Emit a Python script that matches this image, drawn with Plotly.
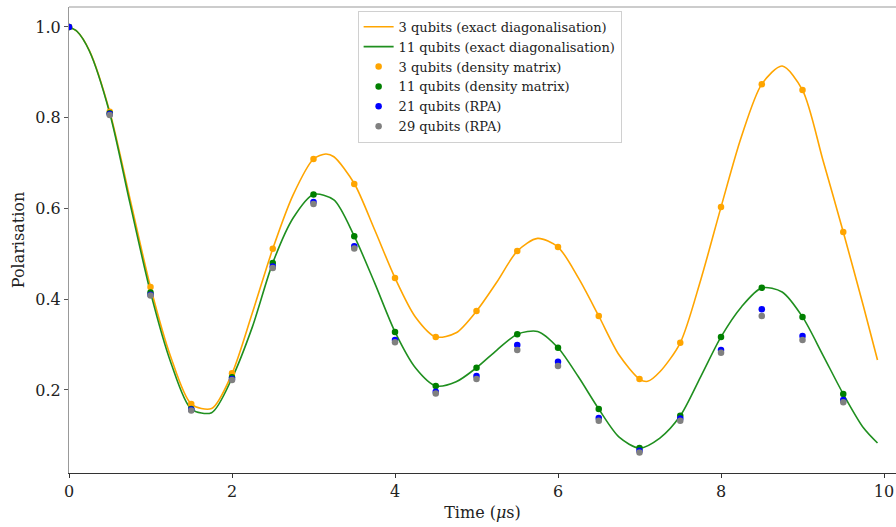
import plotly.graph_objects as go

# Exact diagonalisation curves
t_exact_3 = [0, 0.1, 0.25, 0.5, 0.75, 1.0, 1.25, 1.5, 1.75, 2.0,
             2.25, 2.5, 2.75, 3.0, 3.15, 3.25, 3.5, 3.75, 4.0, 4.25,
             4.5, 4.75, 5.0, 5.25, 5.5, 5.75, 6.0, 6.25, 6.5,
             6.75, 7.0, 7.1, 7.25, 7.5, 7.75, 8.0, 8.25, 8.5, 8.75,
             9.0, 9.25, 9.5, 9.75, 9.92]
p_exact_3 = [1.0, 0.99, 0.948, 0.813, 0.62, 0.427, 0.272, 0.169, 0.159, 0.236,
             0.37, 0.511, 0.630, 0.709, 0.720, 0.714, 0.655, 0.553, 0.447, 0.361,
             0.317, 0.326, 0.374, 0.438, 0.506, 0.534, 0.515, 0.447, 0.363,
             0.277, 0.224, 0.219, 0.240, 0.304, 0.442, 0.603, 0.758, 0.874, 0.914,
             0.861, 0.707, 0.548, 0.383, 0.266]

t_exact_11 = [0, 0.1, 0.25, 0.5, 0.75, 1.0, 1.25, 1.5, 1.75, 2.0,
              2.25, 2.5, 2.75, 3.0, 3.25, 3.5, 3.75, 4.0, 4.25,
              4.5, 4.75, 5.0, 5.25, 5.5, 5.75, 6.0, 6.25,
              6.5, 6.75, 7.0, 7.25, 7.5, 7.75, 8.0, 8.25, 8.5,
              8.75, 9.0, 9.25, 9.5, 9.75, 9.92]
p_exact_11 = [1.0, 0.99, 0.947, 0.81, 0.61, 0.415, 0.26, 0.158, 0.150, 0.226,
              0.339, 0.480, 0.579, 0.631, 0.619, 0.539, 0.436, 0.328, 0.249,
              0.209, 0.218, 0.249, 0.288, 0.323, 0.329, 0.293, 0.229,
              0.158, 0.096, 0.072, 0.094, 0.143, 0.229, 0.317, 0.383, 0.425,
              0.416, 0.361, 0.277, 0.191, 0.116, 0.083]

# Sampled points
t_pts = [0, 0.5, 1.0, 1.5, 2.0, 2.5, 3.0, 3.5, 4.0, 4.5,
         5.0, 5.5, 6.0, 6.5, 7.0, 7.5, 8.0, 8.5, 9.0, 9.5]
dm_3 = [1.0, 0.813, 0.427, 0.169, 0.237, 0.511, 0.709, 0.654, 0.447, 0.317,
        0.374, 0.506, 0.515, 0.363, 0.224, 0.304, 0.603, 0.874, 0.861, 0.548]
dm_11 = [1.0, 0.810, 0.415, 0.158, 0.228, 0.480, 0.631, 0.539, 0.328, 0.209,
         0.249, 0.323, 0.293, 0.158, 0.072, 0.143, 0.317, 0.425, 0.361, 0.191]
rpa_21 = [1.0, 0.808, 0.410, 0.157, 0.224, 0.472, 0.614, 0.517, 0.310, 0.196,
          0.231, 0.299, 0.262, 0.138, 0.066, 0.137, 0.288, 0.378, 0.319, 0.178]
t_rpa_29 = t_pts[1:]
rpa_29 = [0.806, 0.408, 0.155, 0.222, 0.469, 0.610, 0.512, 0.305, 0.192,
          0.224, 0.288, 0.253, 0.132, 0.062, 0.132, 0.282, 0.363, 0.310, 0.173]

x_ticks = [0, 2, 4, 6, 8, 10]
y_ticks = [0.2, 0.4, 0.6, 0.8, 1.0]

serif = "DejaVu Serif"
fig = go.Figure()
fig.add_trace(go.Scatter(x=t_exact_3, y=p_exact_3, mode="lines",
                         line=dict(color="orange", width=1.6, shape="spline", smoothing=0.8),
                         name="3 qubits (exact diagonalisation)"))
fig.add_trace(go.Scatter(x=t_exact_11, y=p_exact_11, mode="lines",
                         line=dict(color="#1f8f1f", width=1.6, shape="spline", smoothing=0.8),
                         name="11 qubits (exact diagonalisation)"))
fig.add_trace(go.Scatter(x=t_pts, y=dm_3, mode="markers",
                         marker=dict(color="orange", size=6.5),
                         name="3 qubits (density matrix)"))
fig.add_trace(go.Scatter(x=t_pts, y=dm_11, mode="markers",
                         marker=dict(color="green", size=6.5),
                         name="11 qubits (density matrix)"))
fig.add_trace(go.Scatter(x=t_pts, y=rpa_21, mode="markers",
                         marker=dict(color="blue", size=6.5),
                         name="21 qubits (RPA)"))
fig.add_trace(go.Scatter(x=t_rpa_29, y=rpa_29, mode="markers",
                         marker=dict(color="grey", size=6.5),
                         name="29 qubits (RPA)"))

fig.update_layout(
    width=896, height=527,
    margin=dict(l=69, r=0, t=7, b=54),
    plot_bgcolor="white", paper_bgcolor="white",
    font=dict(family=serif, color="#222"),
    showlegend=True,
    legend=dict(x=0.349, y=0.992, xanchor="left", yanchor="top",
                bgcolor="white", bordercolor="#d0d0d0", borderwidth=1,
                font=dict(family=serif, size=13, color="#222"),
                itemwidth=30, tracegroupgap=0),
    xaxis=dict(range=[0, 10.147], tickvals=x_ticks, ticktext=[str(v) for v in x_ticks],
               showgrid=False, zeroline=False, showline=True, linecolor="#333", linewidth=1.2,
               ticks="outside", ticklen=4, tickcolor="#333",
               tickfont=dict(family=serif, size=16, color="#222"),
               title=dict(text="Time (<i>μ</i>s)", font=dict(family=serif, size=16, color="#222"),
                          standoff=6)),
    yaxis=dict(range=[0.017, 1.044], tickvals=y_ticks, ticktext=["0.2", "0.4", "0.6", "0.8", "1.0"],
               showgrid=False, zeroline=False, showline=True, linecolor="#999", linewidth=1.2,
               ticks="outside", ticklen=4, tickcolor="#555",
               tickfont=dict(family=serif, size=16, color="#222"),
               title=dict(text="Polarisation", font=dict(family=serif, size=16, color="#222"),
                          standoff=6)),
)
fig.add_shape(type="line", xref="paper", yref="paper", x0=0, x1=1, y0=1, y1=1,
              line=dict(color="#999", width=1.2))

fig.write_html("out.html")
